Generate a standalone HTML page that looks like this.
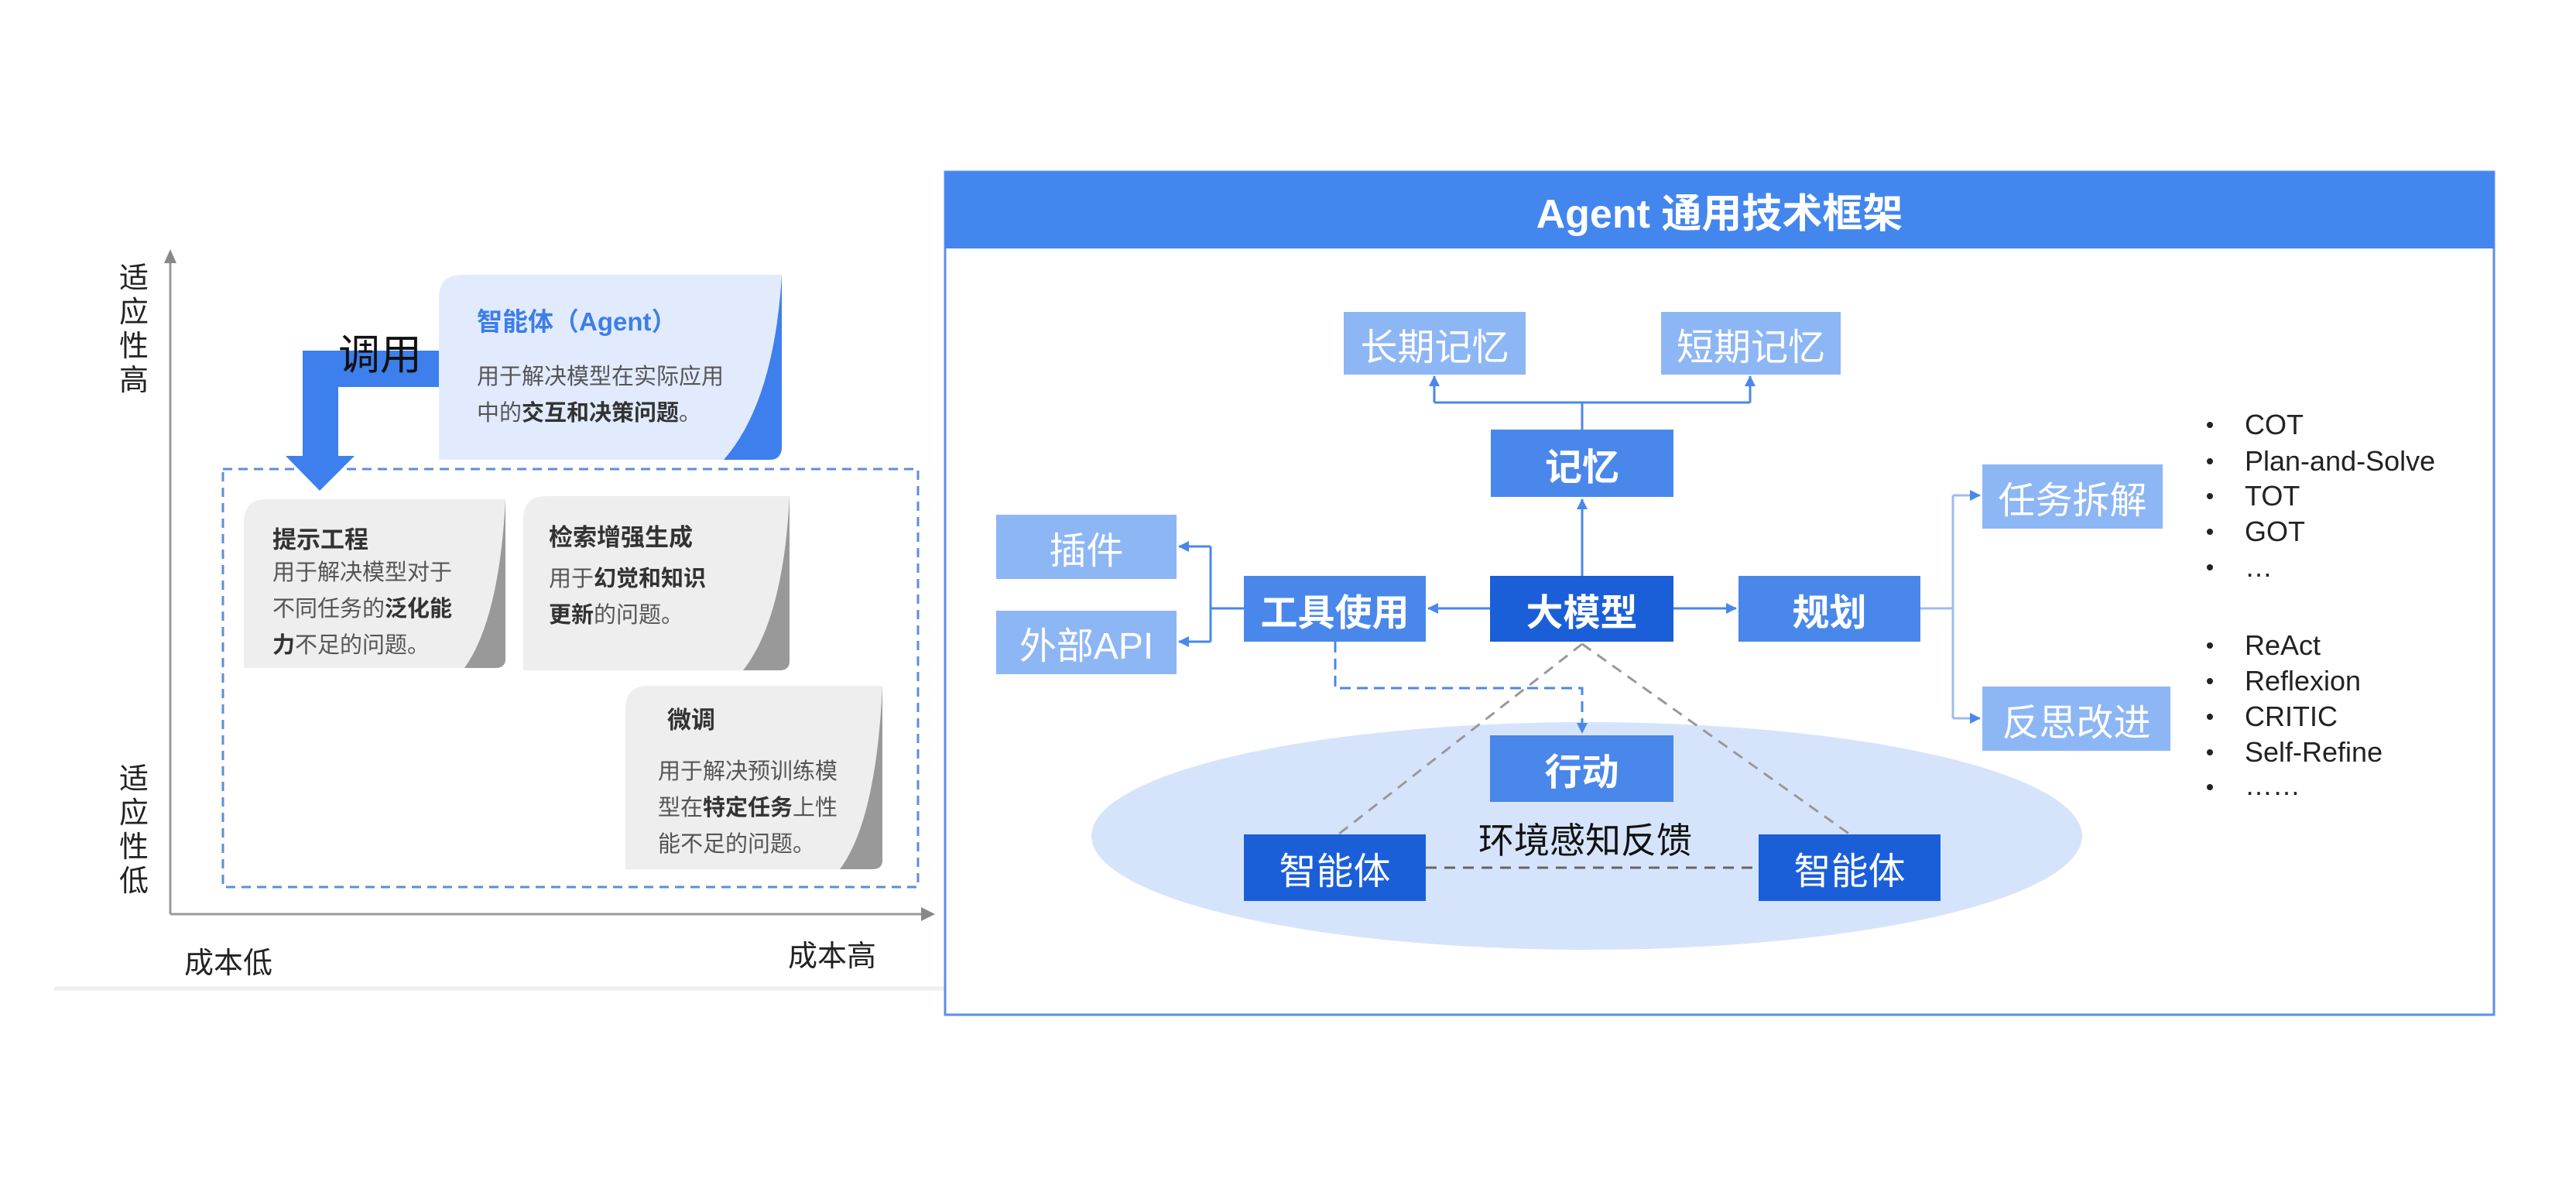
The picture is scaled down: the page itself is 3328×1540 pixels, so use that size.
<!DOCTYPE html>
<html><head><meta charset="utf-8"><style>
body{margin:0;width:3328px;height:1540px;background:#fff;position:relative;overflow:hidden;font-family:"Liberation Sans","Noto Sans CJK SC",sans-serif}
.a{position:absolute}
.bx{position:absolute;display:flex;align-items:center;justify-content:center;color:#fff;font-size:48px;white-space:nowrap}
.l{background:#8db6f4}.m{background:#4a87ea}.d{background:#1b5fd8}
.t{position:absolute;white-space:nowrap;color:#555;font-size:29px;line-height:47px}
.t b{color:#333}
.v{position:absolute;font-size:38px;line-height:44px;width:40px;color:#222}
.bl{position:absolute;font-size:36px;color:#222;white-space:nowrap}
</style></head><body>
<svg class="a" style="left:0;top:0" width="3328" height="1540">
<defs>
<marker id="ab2" markerWidth="14" markerHeight="14" refX="13" refY="7" orient="auto" markerUnits="userSpaceOnUse"><path d="M0,0 L14,7 L0,14z" fill="#4a87ea"/></marker>
</defs>
<line x1="220" y1="1181" x2="220" y2="336" stroke="#999" stroke-width="3"/>
<path d="M212,340 L220,322 L228,340z" fill="#888"/>
<line x1="220" y1="1181" x2="1192" y2="1181" stroke="#999" stroke-width="3"/>
<path d="M1190,1172 L1208,1181 L1190,1190z" fill="#888"/>
<line x1="70" y1="1277" x2="1281" y2="1277" stroke="#eee" stroke-width="5"/>
<rect x="288" y="606" width="898" height="540" fill="none" stroke="#5b8fd9" stroke-width="3" stroke-dasharray="12,8"/>
<path d="M567,385 Q567,355 597,355 L1010,355 Q1000,520 935,594 L567,594z" fill="#e1ebfd"/>
<path d="M1010,355 L1010,580 Q1008,594 995,594 L935,594 Q1000,520 1010,355z" fill="#3d7fec"/>
<path d="M567,453 L391,453 L391,589 L369,589 L413,634 L458,589 L437,589 L437,500 L567,500z" fill="#3d7fec"/>
<path d="M315,675 Q315,645 345,645 L653,645 Q645,800 600,863 L315,863z" fill="#eee"/>
<path d="M653,645 L653,853 Q652,863 640,863 L600,863 Q645,800 653,645z" fill="#999"/>
<path d="M676,671 Q676,641 706,641 L1020,641 Q1012,800 960,866 L676,866z" fill="#eee"/>
<path d="M1020,641 L1020,856 Q1019,866 1007,866 L960,866 Q1012,800 1020,641z" fill="#999"/>
<path d="M808,916 Q808,886 838,886 L1140,886 Q1132,1060 1085,1123 L808,1123z" fill="#eee"/>
<path d="M1140,886 L1140,1113 Q1139,1123 1127,1123 L1085,1123 Q1132,1060 1140,886z" fill="#999"/>
<rect x="1221" y="222" width="2001" height="1089" fill="#fff" stroke="#5b8fe8" stroke-width="3"/>
<rect x="1221" y="222" width="2001" height="99" fill="#4386ee"/>
<ellipse cx="2050" cy="1080" rx="640" ry="147" fill="#d6e4fb"/>
<g stroke="#4a87ea" stroke-width="3" fill="none">
<line x1="2044" y1="555" x2="2044" y2="520"/>
<line x1="1853" y1="520" x2="2261" y2="520"/>
<line x1="1853" y1="520" x2="1853" y2="486" marker-end="url(#ab2)"/>
<line x1="2261" y1="520" x2="2261" y2="486" marker-end="url(#ab2)"/>
<line x1="2044" y1="744" x2="2044" y2="645" marker-end="url(#ab2)"/>
<line x1="1925" y1="786" x2="1845" y2="786" marker-end="url(#ab2)"/>
<line x1="2162" y1="786" x2="2243" y2="786" marker-end="url(#ab2)"/>
<line x1="1607" y1="786" x2="1564" y2="786"/>
<line x1="1564" y1="706" x2="1564" y2="829"/>
<line x1="1564" y1="706" x2="1523" y2="706" marker-end="url(#ab2)"/>
<line x1="1564" y1="829" x2="1523" y2="829" marker-end="url(#ab2)"/>
<line x1="2481" y1="786" x2="2523" y2="786" stroke="#9cbcf0"/>
<line x1="2523" y1="640" x2="2523" y2="928" stroke="#9cbcf0"/>
<line x1="2523" y1="640" x2="2558" y2="640" marker-end="url(#ab2)" stroke="#9cbcf0"/>
<line x1="2523" y1="928" x2="2558" y2="928" marker-end="url(#ab2)" stroke="#9cbcf0"/>
<path d="M1725,829 L1725,889 L2044,889 L2044,947" stroke-dasharray="14,8" marker-end="url(#ab2)"/>
</g>
<g stroke="#999" stroke-width="3" stroke-dasharray="14,10" fill="none">
<line x1="2044" y1="832" x2="1729" y2="1078"/>
<line x1="2044" y1="832" x2="2390" y2="1078"/>
<line x1="1842" y1="1121" x2="2272" y2="1121" stroke="#666"/>
</g>
<g fill="#222">
<circle cx="2855" cy="549" r="4"/><circle cx="2855" cy="596" r="4"/><circle cx="2855" cy="641" r="4"/><circle cx="2855" cy="687" r="4"/><circle cx="2855" cy="733" r="4"/>
<circle cx="2855" cy="834" r="4"/><circle cx="2855" cy="880" r="4"/><circle cx="2855" cy="926" r="4"/><circle cx="2855" cy="972" r="4"/><circle cx="2855" cy="1017" r="4"/>
</g>
</svg>

<div class="v" style="left:154px;top:338px">适<br>应<br>性<br>高</div>
<div class="v" style="left:154px;top:985px">适<br>应<br>性<br>低</div>
<div class="a" style="left:238px;top:1213px;font-size:38px;color:#222">成本低</div>
<div class="a" style="left:1018px;top:1204px;font-size:38px;color:#222">成本高</div>
<div class="a" style="left:437px;top:414px;font-size:54px;color:#111">调用</div>
<div class="t" style="left:616px;top:392px;font-size:33px;color:#3d7ee8;font-weight:bold">智能体（Agent）</div>
<div class="t" style="left:616px;top:464px">用于解决模型在实际应用<br>中的<b>交互和决策问题</b>。</div>
<div class="t" style="left:352px;top:674px;font-size:31px;color:#333;font-weight:bold">提示工程</div>
<div class="t" style="left:352px;top:717px">用于解决模型对于<br>不同任务的<b>泛化能</b><br><b>力</b>不足的问题。</div>
<div class="t" style="left:709px;top:671px;font-size:31px;color:#333;font-weight:bold">检索增强生成</div>
<div class="t" style="left:709px;top:725px">用于<b>幻觉和知识</b><br><b>更新</b>的问题。</div>
<div class="t" style="left:862px;top:907px;font-size:31px;color:#333;font-weight:bold">微调</div>
<div class="t" style="left:850px;top:974px">用于解决预训练模<br>型在<b>特定任务</b>上性<br>能不足的问题。</div>

<div class="bx" style="left:1221px;top:222px;width:2001px;height:99px;font-size:52px;font-weight:bold">Agent 通用技术框架</div>
<div class="bx l" style="left:1736px;top:403px;width:235px;height:81px">长期记忆</div>
<div class="bx l" style="left:2146px;top:403px;width:232px;height:81px">短期记忆</div>
<div class="bx m" style="left:1926px;top:555px;width:236px;height:87px;font-weight:bold">记忆</div>
<div class="bx d" style="left:1925px;top:744px;width:237px;height:85px;font-weight:bold">大模型</div>
<div class="bx m" style="left:2246px;top:744px;width:235px;height:85px;font-weight:bold">规划</div>
<div class="bx m" style="left:1607px;top:744px;width:235px;height:85px;font-weight:bold">工具使用</div>
<div class="bx l" style="left:1287px;top:665px;width:233px;height:83px">插件</div>
<div class="bx l" style="left:1287px;top:789px;width:233px;height:82px">外部API</div>
<div class="bx l" style="left:2561px;top:600px;width:233px;height:83px">任务拆解</div>
<div class="bx l" style="left:2561px;top:887px;width:243px;height:83px">反思改进</div>
<div class="bx m" style="left:1925px;top:950px;width:237px;height:86px;font-weight:bold">行动</div>
<div class="bx d" style="left:1607px;top:1078px;width:235px;height:86px">智能体</div>
<div class="bx d" style="left:2272px;top:1078px;width:235px;height:86px">智能体</div>
<div class="a" style="left:1888px;top:1050px;width:320px;text-align:center;font-size:46px;color:#111">环境感知反馈</div>

<div class="bl" style="left:2900px;top:528px">COT</div>
<div class="bl" style="left:2900px;top:575px">Plan-and-Solve</div>
<div class="bl" style="left:2900px;top:620px">TOT</div>
<div class="bl" style="left:2900px;top:666px">GOT</div>
<div class="bl" style="left:2900px;top:712px">…</div>
<div class="bl" style="left:2900px;top:813px">ReAct</div>
<div class="bl" style="left:2900px;top:859px">Reflexion</div>
<div class="bl" style="left:2900px;top:905px">CRITIC</div>
<div class="bl" style="left:2900px;top:951px">Self-Refine</div>
<div class="bl" style="left:2900px;top:994px">……</div>
</body></html>
